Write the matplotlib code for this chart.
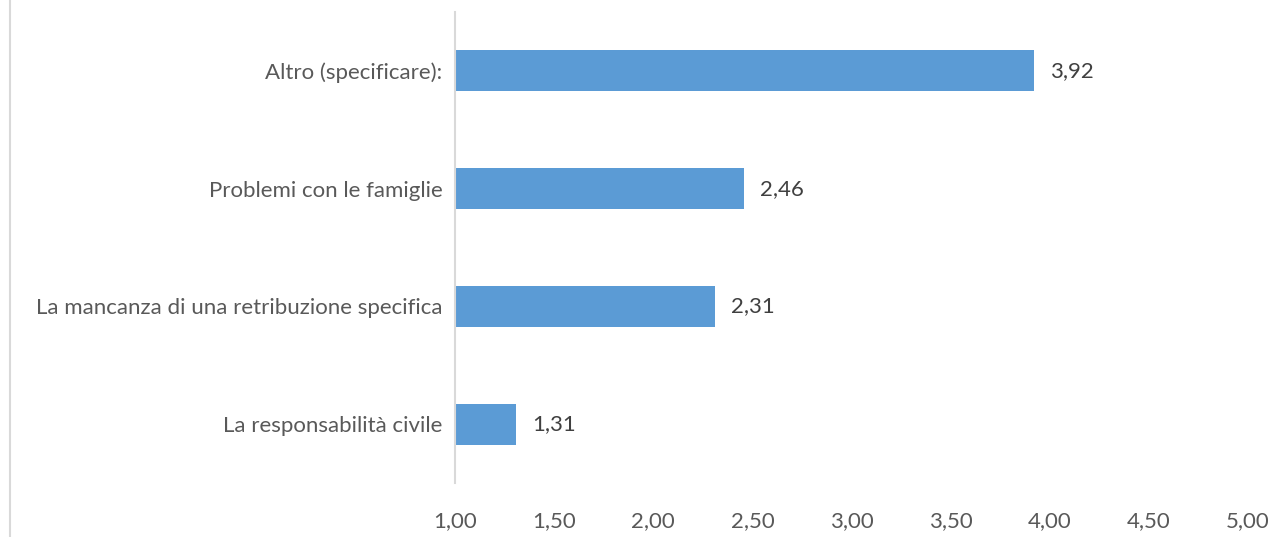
import matplotlib.pyplot as plt
from matplotlib.lines import Line2D

# dati
categorie = ['La responsabilità civile', 'La mancanza di una retribuzione specifica',
             'Problemi con le famiglie', 'Altro (specificare):']
valori = [1.31, 2.31, 2.46, 3.92]
ticks = [1.0, 1.5, 2.0, 2.5, 3.0, 3.5, 4.0, 4.5, 5.0]

plt.rcParams['font.family'] = ['Lato', 'DejaVu Sans']

W, H = 1285, 537
fig = plt.figure(figsize=(W / 100, H / 100), dpi=100)
ax = fig.add_axes([455 / W, 1 - 483 / H, (1248 - 455) / W, (483 - 12) / H])

y = range(len(categorie))
base = 1.0
ax.barh(y, [v - base for v in valori], left=base, height=0.35, color='#5b9bd5')

for i, v in zip(y, valori):
    ax.text(v + 0.08, i, f'{v:.2f}'.replace('.', ','), va='center', ha='left',
            fontsize=16, color='#404040')

ax.set_xlim(1, 5)
ax.set_ylim(-0.5, len(categorie) - 0.5)
ax.set_xticks(ticks)
ax.set_xticklabels([f'{t:.2f}'.replace('.', ',') for t in ticks])
ax.set_yticks(list(y))
ax.set_yticklabels(categorie)
ax.tick_params(axis='both', length=0, labelsize=16, labelcolor='#595959')
ax.tick_params(axis='x', pad=20)
ax.tick_params(axis='y', pad=9)

for s in ['top', 'right', 'bottom']:
    ax.spines[s].set_visible(False)
ax.spines['left'].set_color('#d9d9d9')
ax.spines['left'].set_linewidth(1.5)

# bordo grafico a sinistra
fig.add_artist(Line2D([9.5 / W, 9.5 / W], [0, 1], color='#d9d9d9', lw=1.5,
                      transform=fig.transFigure))

fig.savefig('out.png', dpi=100)
